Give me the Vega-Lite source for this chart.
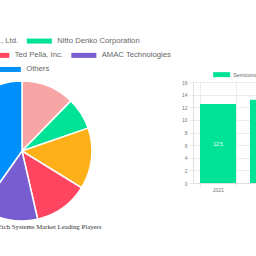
{
  "$schema": "https://vega.github.io/schema/vega-lite/v6.json",
  "autosize": {"type": "pad"},
  "padding": {"left": -138, "top": 37, "right": 0, "bottom": 0},
  "background": "white",
  "bounds": "flush",
  "spacing": 11,
  "datasets": {
    "players": [
      {"company": "Hitachi Hi-Tech Co., Ltd.", "share": 12.3, "rank": 1},
      {"company": "Nitto Denko Corporation", "share": 7.4, "rank": 2},
      {"company": "Lam Research Corp.", "share": 14.1, "rank": 3},
      {"company": "Ted Pella, Inc.", "share": 12.6, "rank": 4},
      {"company": "AMAC Technologies", "share": 13.4, "rank": 5},
      {"company": "Others", "share": 40.2, "rank": 6}
    ],
    "size": [
      {"year": "2021", "value": 12.5, "series": "Semiconductor Dry Etch Systems Market Size (USD Billion)"},
      {"year": "2022", "value": 13.2, "series": "Semiconductor Dry Etch Systems Market Size (USD Billion)"},
      {"year": "2023", "value": 13.9, "series": "Semiconductor Dry Etch Systems Market Size (USD Billion)"},
      {"year": "2024", "value": 14.7, "series": "Semiconductor Dry Etch Systems Market Size (USD Billion)"}
    ]
  },
  "resolve": {"scale": {"color": "independent"}, "legend": {"color": "independent"}},
  "hconcat": [
    {
      "width": 320,
      "height": 138,
      "data": {"name": "players"},
      "title": {"text": "Semiconductor Dry Etch Systems Market Leading Players", "orient": "bottom", "anchor": "middle", "font": "Liberation Serif", "fontSize": 6.8, "fontWeight": "normal", "color": "#333333", "offset": 0},
      "layer": [
        {
          "mark": {"type": "arc", "outerRadius": 70, "stroke": "white", "strokeWidth": 1.5},
          "encoding": {
            "theta": {"field": "share", "type": "quantitative", "stack": true},
            "order": {"field": "rank", "type": "quantitative"},
            "color": {"field": "company", "type": "nominal", "legend": null,
              "scale": {"domain": ["Hitachi Hi-Tech Co., Ltd.", "Nitto Denko Corporation", "Lam Research Corp.", "Ted Pella, Inc.", "AMAC Technologies", "Others"],
                        "range": ["#F8A5A6", "#00E396", "#FEB019", "#FF4560", "#775DD0", "#008FFB"]}}
          }
        },
        {
          "transform": [{"filter": {"field": "company", "oneOf": ["Hitachi Hi-Tech Co., Ltd.", "Nitto Denko Corporation"]}}],
          "mark": {"type": "square", "opacity": 0},
          "encoding": {
            "color": {"field": "company", "type": "nominal",
              "scale": {"domain": ["Hitachi Hi-Tech Co., Ltd.", "Nitto Denko Corporation"], "range": ["#F8A5A6", "#00E396"]},
              "legend": {"title": null, "offset": 8}}
          }
        },
        {
          "transform": [{"filter": {"field": "company", "oneOf": ["Lam Research Corp.", "Ted Pella, Inc.", "AMAC Technologies"]}}],
          "mark": {"type": "square", "opacity": 0},
          "encoding": {
            "color": {"field": "company", "type": "nominal",
              "scale": {"domain": ["Lam Research Corp.", "Ted Pella, Inc.", "AMAC Technologies"], "range": ["#FEB019", "#FF4560", "#775DD0"]},
              "legend": {"title": null, "offset": 8}}
          }
        },
        {
          "transform": [{"filter": {"field": "company", "oneOf": ["Others"]}}],
          "mark": {"type": "square", "opacity": 0},
          "encoding": {
            "color": {"field": "company", "type": "nominal",
              "scale": {"domain": ["Others"], "range": ["#008FFB"]},
              "legend": {"title": null, "offset": 8}}
          }
        }
      ],
      "resolve": {"scale": {"color": "independent"}, "legend": {"color": "independent"}}
    },
    {
      "width": 200,
      "height": 101,
      "data": {"name": "size"},
      "layer": [
        {
          "mark": {"type": "bar"},
          "encoding": {
            "x": {"field": "year", "type": "ordinal", "scale": {"paddingInner": 0.28, "paddingOuter": 0.14},
              "axis": {"title": null, "labelAngle": 0, "labelFontSize": 5, "labelColor": "#777777", "tickBand": "extent", "grid": true, "gridColor": "#ececec", "tickColor": "#ececec", "domainColor": "#e0e0e0", "tickSize": 4, "labelPadding": 0}},
            "y": {"field": "value", "type": "quantitative", "scale": {"domain": [0, 16], "nice": false},
              "axis": {"title": null, "values": [0, 2, 4, 6, 8, 10, 12, 14, 16], "labelFontSize": 5, "labelColor": "#777777", "gridColor": "#ececec", "tickColor": "#ececec", "domainColor": "#e0e0e0", "tickSize": 4, "labelPadding": 2}},
            "color": {"field": "series", "type": "nominal", "scale": {"range": ["#00E396"]},
              "legend": {"title": null, "offset": 4, "labelFontSize": 5.3, "symbolType": "M-1,-1H5.8V1H-1Z", "labelOffset": 15}}
          }
        },
        {
          "mark": {"type": "text", "color": "white", "fontSize": 5, "baseline": "middle"},
          "encoding": {
            "x": {"field": "year", "type": "ordinal"},
            "y": {"field": "value", "type": "quantitative", "scale": {"domain": [0, 32], "nice": false}, "axis": null},
            "text": {"field": "value", "type": "quantitative", "format": ".1f"}
          }
        }
      ],
      "resolve": {"scale": {"y": "independent"}}
    }
  ],
  "config": {
    "view": {"stroke": null},
    "font": "Liberation Sans",
    "legend": {
      "orient": "top",
      "direction": "horizontal",
      "labelFont": "Liberation Sans",
      "labelFontSize": 7.7,
      "labelColor": "#666666",
      "symbolType": "M-1,-1H9V1H-1Z",
      "symbolSize": 25,
      "symbolStrokeWidth": 0,
      "symbolOpacity": 1,
      "labelOffset": 24,
      "columnPadding": 7,
      "padding": 0,
      "layout": {"top": {"anchor": "middle", "direction": "vertical", "center": true, "margin": 6.3}}
    }
  }
}
